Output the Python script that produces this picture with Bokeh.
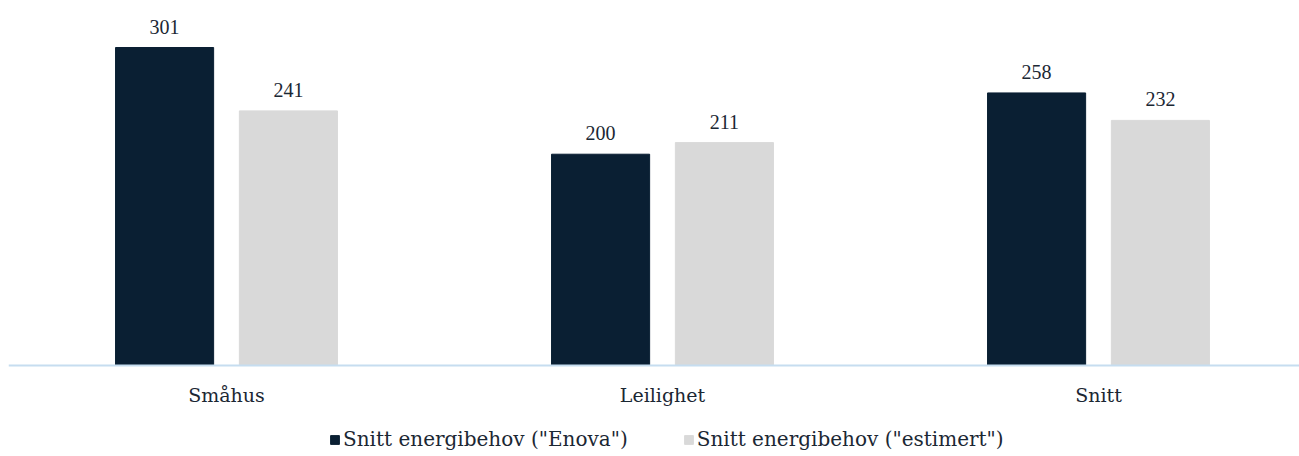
from bokeh.plotting import figure
from bokeh.models import Range1d, FixedTicker, Legend, LegendItem, ColumnDataSource, LabelSet
from bokeh.embed import file_html
from bokeh.resources import INLINE

categories = ["Småhus", "Leilighet", "Snitt"]
enova = [301, 200, 258]
estimert = [241, 211, 232]
series_names = ['Snitt energibehov ("Enova")', 'Snitt energibehov ("estimert")']

DARK = "#0a1f33"
LIGHT = "#d9d9d9"
TXT = "#1b2733"
FONT = "DejaVu Serif"

x = list(range(len(categories)))
off = 0.142
w = 0.225
ppu = 318 / 301.0  # pixels per unit

p = figure(frame_width=1291, frame_height=456, output_backend="svg", toolbar_location=None,
           x_range=Range1d(-0.5, -0.5 + 1291 / 436), y_range=Range1d(-91 / ppu, 365 / ppu),
           min_border_left=8, min_border_right=0, min_border_top=0, min_border_bottom=0)
p.outline_line_color = None
p.grid.visible = False
p.yaxis.visible = False
p.background_fill_color = "white"

s1 = ColumnDataSource(dict(x=[v - off for v in x], top=enova, lab=[str(v) for v in enova]))
s2 = ColumnDataSource(dict(x=[v + off for v in x], top=estimert, lab=[str(v) for v in estimert]))
r1 = p.vbar(x="x", top="top", width=w, source=s1, color=DARK)
r2 = p.vbar(x="x", top="top", width=w, source=s2, color=LIGHT)

for s in (s1, s2):
    p.add_layout(LabelSet(x="x", y="top", text="lab", source=s, y_offset=14, text_align="center",
                          text_baseline="bottom", text_font=FONT, text_font_size="20px",
                          text_color=TXT))

ax = p.xaxis[0]
ax.fixed_location = 0
ax.ticker = FixedTicker(ticks=x)
ax.major_label_overrides = {i: c for i, c in enumerate(categories)}
ax.major_tick_line_color = None
ax.major_tick_out = 0
ax.major_tick_in = 0
ax.minor_tick_line_color = None
ax.axis_line_color = "#c6ddf0"
ax.axis_line_width = 2
ax.major_label_text_font = FONT
ax.major_label_text_font_size = "19px"
ax.major_label_text_color = TXT
ax.major_label_standoff = 18

legend = Legend(items=[LegendItem(label=series_names[0], renderers=[r1]),
                       LegendItem(label=series_names[1], renderers=[r2])],
                orientation="horizontal", location=(321, 5),
                label_text_font=FONT, label_text_font_size="20px", label_text_color=TXT,
                glyph_width=11, glyph_height=11, label_standoff=3, spacing=55,
                border_line_color=None, background_fill_alpha=0, padding=0, margin=0)
p.add_layout(legend, "center")

open("out.html", "w").write(file_html(p, INLINE))
